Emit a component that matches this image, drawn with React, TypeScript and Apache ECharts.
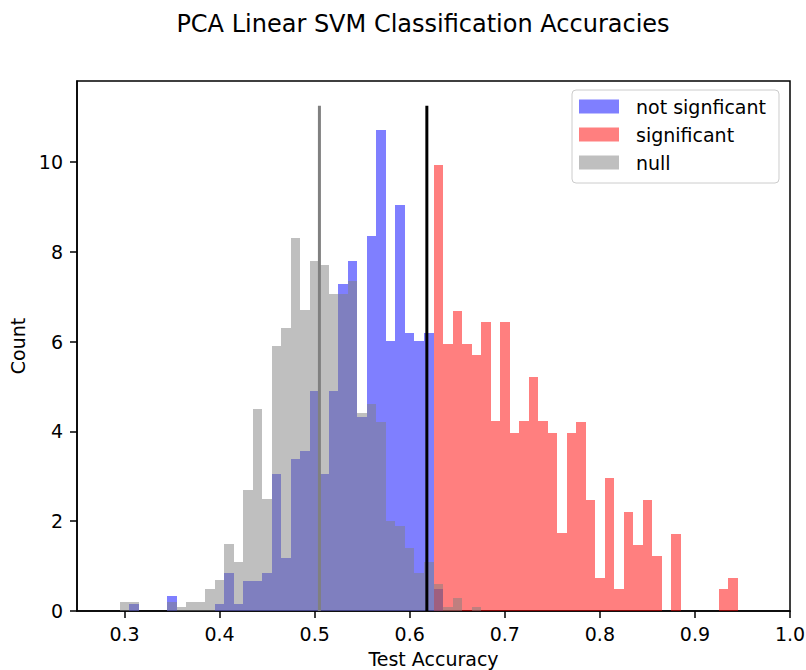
import React, { useEffect, useRef } from "react";
import * as echarts from "echarts";

// Histogram bin centers (bin width 0.01)
const binCenters = [
  0.30, 0.31, 0.32, 0.33, 0.34, 0.35, 0.36, 0.37, 0.38, 0.39,
  0.40, 0.41, 0.42, 0.43, 0.44, 0.45, 0.46, 0.47, 0.48, 0.49,
  0.50, 0.51, 0.52, 0.53, 0.54, 0.55, 0.56, 0.57, 0.58, 0.59,
  0.60, 0.61, 0.62, 0.63, 0.64, 0.65, 0.66, 0.67, 0.68, 0.69,
  0.70, 0.71, 0.72, 0.73, 0.74, 0.75, 0.76, 0.77, 0.78, 0.79,
  0.80, 0.81, 0.82, 0.83, 0.84, 0.85, 0.86, 0.87, 0.88, 0.89,
  0.90, 0.91, 0.92, 0.93, 0.94,
];

// "not signficant" histogram heights (density)
const notSignificant = [
  0, 0.16, 0, 0, 0, 0.33, 0, 0, 0, 0,
  0.16, 0.84, 0.16, 0.67, 0.67, 0.84, 3.04, 1.19, 3.39, 3.57,
  4.90, 3.05, 4.90, 7.29, 7.79, 4.33, 8.36, 10.70, 6.02, 9.03,
  6.18, 6.02, 6.18, 0.50, 0, 0, 0, 0, 0, 0,
  0, 0, 0, 0, 0, 0, 0, 0, 0, 0,
  0, 0, 0, 0, 0, 0, 0, 0, 0, 0,
  0, 0, 0, 0, 0,
];

// "significant" histogram heights (density)
const significant = [
  0, 0, 0, 0, 0, 0, 0, 0, 0, 0,
  0, 0, 0, 0, 0, 0, 0, 0, 0, 0,
  0, 0, 0, 0, 0, 0, 0, 0, 0, 0,
  0, 0, 0, 9.92, 5.95, 6.68, 5.95, 5.70, 6.44, 4.22,
  6.44, 3.96, 4.22, 5.20, 4.22, 3.96, 1.73, 3.96, 4.20, 2.47,
  0.73, 2.96, 0.49, 2.21, 1.48, 2.47, 1.23, 0, 1.72, 0,
  0, 0, 0, 0.49, 0.73,
];

// "null" histogram heights (density)
const nullDist = [
  0.2, 0.2, 0, 0, 0, 0.2, 0.1, 0.2, 0.2, 0.5,
  0.7, 1.5, 1.1, 2.7, 4.5, 2.5, 5.9, 6.3, 8.3, 6.7,
  7.8, 7.7, 7.05, 7.05, 7.35, 4.4, 4.6, 4.2, 2.0, 1.9,
  1.4, 0.85, 1.1, 0.6, 0.1, 0.3, 0, 0.1, 0, 0,
  0, 0, 0, 0, 0, 0, 0, 0, 0, 0,
  0, 0, 0, 0, 0, 0, 0, 0, 0, 0,
  0, 0, 0, 0, 0,
];

const BIN_WIDTH = 0.01;
const nullMean = 0.505;
const threshold = 0.618;
const lineTop = 11.25;
const xTicks = [0.3, 0.4, 0.5, 0.6, 0.7, 0.8, 0.9, 1.0];
const yTicks = [0, 2, 4, 6, 8, 10];

const FONT = "DejaVu Sans";

function histSeries(name: string, heights: number[], color: string) {
  return {
    type: "custom",
    name,
    itemStyle: { color },
    renderItem: (_params: any, api: any) => {
      const c = api.value(0);
      const h = api.value(1);
      if (!h) return null;
      const p0 = api.coord([c - BIN_WIDTH / 2, h]);
      const p1 = api.coord([c + BIN_WIDTH / 2, 0]);
      const x0 = Math.round(p0[0]);
      const x1 = Math.round(p1[0]);
      const y0 = Math.round(p0[1]);
      const y1 = Math.round(p1[1]);
      return {
        type: "rect",
        shape: { x: x0, y: y0, width: x1 - x0, height: y1 - y0 },
        style: { fill: color },
      };
    },
    encode: { x: 0, y: 1 },
    data: binCenters.map((c, i) => [c, heights[i]]),
    silent: true,
  };
}

export default function App() {
  const ref = useRef<HTMLDivElement>(null);
  useEffect(() => {
    if (!ref.current) return;
    const chart = echarts.init(ref.current, undefined, { renderer: "svg" });
    const axisColor = "#000";
    chart.setOption({
      animation: false,
      textStyle: { fontFamily: FONT },
      title: {
        text: "PCA Linear SVM Classification Accuracies",
        left: 418,
        top: 7,
        textAlign: "center",
        textStyle: { fontFamily: FONT, fontSize: 24, fontWeight: "normal", color: "#000" },
      },
      legend: {
        data: ["not signficant", "significant", "null"],
        orient: "vertical",
        left: 572,
        top: 90,
        icon: "rect",
        itemWidth: 40,
        itemHeight: 14,
        itemGap: 5,
        padding: [5, 13, 9, 7],
        borderColor: "#cccccc",
        borderWidth: 1,
        borderRadius: 4,
        backgroundColor: "rgba(255,255,255,0.8)",
        textStyle: { fontFamily: FONT, fontSize: 19, color: "#000", lineHeight: 23, padding: [0, 0, 0, 12] },
      },
      grid: {
        left: 77,
        top: 81,
        width: 713,
        height: 530,
        outerBoundsMode: "none",
        containLabel: false,
        show: true,
        borderColor: "#000",
        borderWidth: 1.5,
        backgroundColor: "transparent",
      },
      xAxis: {
        type: "value",
        min: 0.25,
        max: 1.0,
        name: "Test Accuracy",
        nameLocation: "middle",
        nameGap: 38,
        nameTextStyle: { fontFamily: FONT, fontSize: 19, color: "#000" },
        axisLine: { show: true, lineStyle: { color: axisColor, width: 1.5 } },
        axisTick: { show: true, customValues: xTicks, length: 7, lineStyle: { color: axisColor, width: 1.5 } },
        axisLabel: {
          customValues: xTicks,
          formatter: (v: number) => v.toFixed(1),
          fontFamily: FONT,
          fontSize: 19,
          color: "#000",
          margin: 13,
        },
        splitLine: { show: false },
      },
      yAxis: {
        type: "value",
        min: 0,
        max: 11.8,
        name: "Count",
        nameLocation: "middle",
        nameGap: 47,
        nameTextStyle: { fontFamily: FONT, fontSize: 19, color: "#000" },
        axisLine: { show: true, lineStyle: { color: axisColor, width: 1.5 } },
        axisTick: { show: true, customValues: yTicks, length: 7, lineStyle: { color: axisColor, width: 1.5 } },
        axisLabel: { customValues: yTicks, fontFamily: FONT, fontSize: 19, color: "#000", margin: 14 },
        splitLine: { show: false },
      },
      series: [
        histSeries("not signficant", notSignificant, "rgba(0,0,255,0.5)"),
        histSeries("significant", significant, "rgba(255,0,0,0.5)"),
        histSeries("null", nullDist, "rgba(128,128,128,0.5)"),
        {
          type: "line",
          name: "null mean",
          data: [[nullMean, 0], [nullMean, lineTop]],
          symbol: "none",
          lineStyle: { color: "#808080", width: 3 },
          silent: true,
        },
        {
          type: "line",
          name: "threshold",
          data: [[threshold, 0], [threshold, lineTop]],
          symbol: "none",
          lineStyle: { color: "#000000", width: 3 },
          silent: true,
        },
      ],
    });
    return () => chart.dispose();
  }, []);
  return (
    <div
      ref={ref}
      style={{ position: "fixed", left: 0, top: 0, width: 806, height: 670, background: "#fff" }}
    />
  );
}
